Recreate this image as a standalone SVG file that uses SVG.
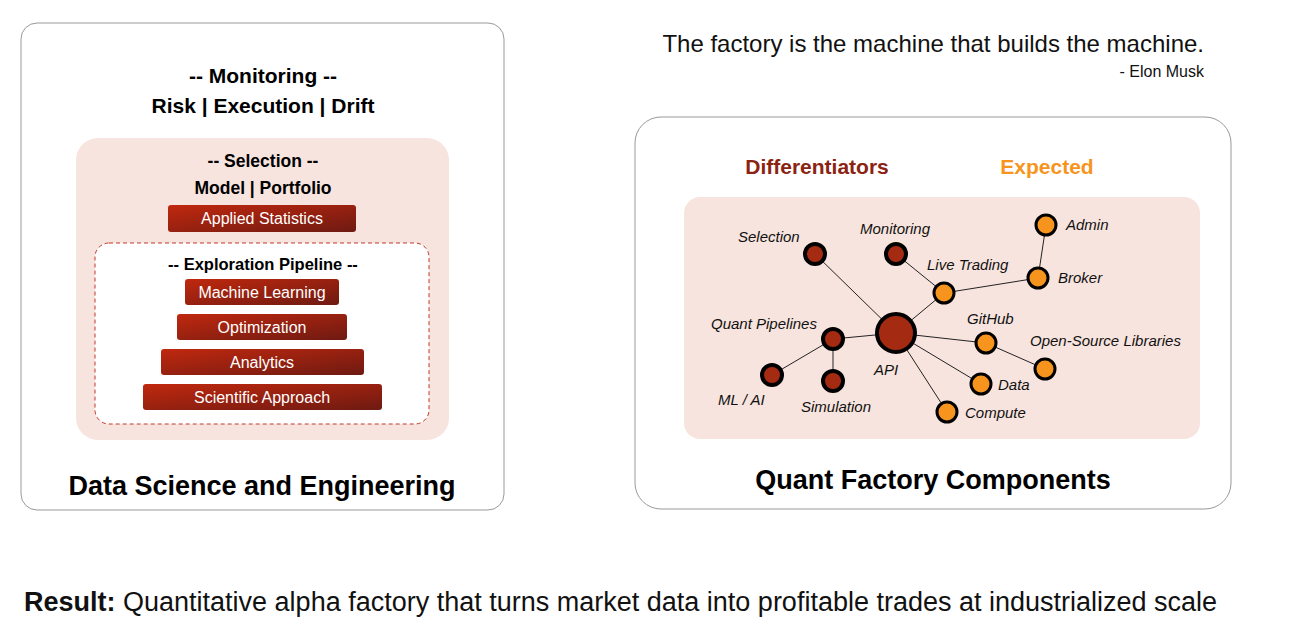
<svg xmlns="http://www.w3.org/2000/svg" width="1291" height="641" viewBox="0 0 1291 641">
<defs>
<linearGradient id="bar" x1="0" y1="0" x2="1" y2="1"><stop offset="0" stop-color="#c0280e"/><stop offset="1" stop-color="#6e1a12"/></linearGradient>
<style>
text{font-family:"Liberation Sans",Arial,sans-serif}
.b{font-weight:bold;fill:#000}
.bt{fill:#fff;font-size:16px;text-anchor:middle}
.n{font-size:15px;font-style:italic;fill:#111}
.d{fill:#a52a12;stroke:#000;stroke-width:4}
.e{fill:#f7941d;stroke:#000;stroke-width:3}
.c line{stroke:#222;stroke-width:1}
</style>
</defs>
<rect width="1291" height="641" fill="#fff"/>
<g id="left">
<rect x="21" y="23" width="483" height="487" rx="16" fill="#fff" stroke="#999"/>
<text x="263" y="83" class="b" font-size="21" text-anchor="middle">-- Monitoring --</text>
<text x="263" y="113" class="b" font-size="21" text-anchor="middle">Risk | Execution | Drift</text>
<rect x="76" y="138" width="373" height="302" rx="22" fill="#f8e4de"/>
<text x="263" y="167" class="b" font-size="17.5" text-anchor="middle">-- Selection --</text>
<text x="263" y="194" class="b" font-size="17.5" text-anchor="middle">Model | Portfolio</text>
<rect x="168" y="205" width="188" height="27" rx="3" fill="url(#bar)"/>
<text x="262" y="224" class="bt">Applied Statistics</text>
<rect x="95" y="243" width="334" height="181" rx="14" fill="#fff" stroke="#c0392b" stroke-dasharray="4,3"/>
<text x="263" y="270" class="b" font-size="16.5" text-anchor="middle">-- Exploration Pipeline --</text>
<rect x="185" y="279" width="154" height="26" rx="3" fill="url(#bar)"/>
<text x="262" y="298" class="bt">Machine Learning</text>
<rect x="177" y="314" width="170" height="26" rx="3" fill="url(#bar)"/>
<text x="262" y="333" class="bt">Optimization</text>
<rect x="161" y="349" width="203" height="26" rx="3" fill="url(#bar)"/>
<text x="262" y="368" class="bt">Analytics</text>
<rect x="143" y="384" width="239" height="26" rx="3" fill="url(#bar)"/>
<text x="262" y="403" class="bt">Scientific Approach</text>
<text x="262" y="495" class="b" font-size="27" text-anchor="middle">Data Science and Engineering</text>
</g>
<text x="1204" y="52" font-size="24" text-anchor="end" fill="#111">The factory is the machine that builds the machine.</text>
<text x="1204" y="77" font-size="16" text-anchor="end" fill="#111">- Elon Musk</text>
<g id="right">
<rect x="635" y="117" width="596" height="392" rx="26" fill="#fff" stroke="#999"/>
<text x="817" y="174" class="b" font-size="21" text-anchor="middle" style="fill:#8b2312">Differentiators</text>
<text x="1047" y="174" class="b" font-size="21" text-anchor="middle" style="fill:#f7941d">Expected</text>
<rect x="684" y="197" width="516" height="242" rx="16" fill="#f8e4de"/>
<text x="933" y="489" class="b" font-size="27" text-anchor="middle">Quant Factory Components</text>
</g>
<g class="c" id="connectors">
<line x1="815" y1="254" x2="896" y2="333"/>
<line x1="896" y1="254" x2="944" y2="293"/>
<line x1="944" y1="293" x2="1038" y2="278"/>
<line x1="1038" y1="278" x2="1046" y2="225"/>
<line x1="944" y1="293" x2="896" y2="333"/>
<line x1="896" y1="333" x2="833" y2="339"/>
<line x1="833" y1="339" x2="772" y2="375"/>
<line x1="833" y1="339" x2="833" y2="381"/>
<line x1="896" y1="333" x2="986" y2="343"/>
<line x1="986" y1="343" x2="1045" y2="369"/>
<line x1="896" y1="333" x2="981" y2="384"/>
<line x1="896" y1="333" x2="947" y2="412"/>
</g>
<g id="nodes">
<g id="n-selection"><circle cx="815" cy="254" r="10" class="d"/><text x="738" y="242" class="n">Selection</text></g>
<g id="n-monitoring"><circle cx="896" cy="254" r="10" class="d"/><text x="860" y="234" class="n">Monitoring</text></g>
<g id="n-live"><circle cx="944" cy="293" r="10" class="e"/><text x="927" y="270" class="n">Live Trading</text></g>
<g id="n-broker"><circle cx="1038" cy="278" r="10" class="e"/><text x="1058" y="283" class="n">Broker</text></g>
<g id="n-admin"><circle cx="1046" cy="225" r="10" class="e"/><text x="1066" y="230" class="n">Admin</text></g>
<g id="n-api"><circle cx="896" cy="333" r="19" class="d"/><text x="874" y="375" class="n">API</text></g>
<g id="n-qp"><circle cx="833" cy="339" r="10" class="d"/><text x="711" y="329" class="n">Quant Pipelines</text></g>
<g id="n-ml"><circle cx="772" cy="375" r="10" class="d"/><text x="718" y="405" class="n">ML / AI</text></g>
<g id="n-sim"><circle cx="833" cy="381" r="10" class="d"/><text x="801" y="412" class="n">Simulation</text></g>
<g id="n-github"><circle cx="986" cy="343" r="10" class="e"/><text x="967" y="324" class="n">GitHub</text></g>
<g id="n-os"><circle cx="1045" cy="369" r="10" class="e"/><text x="1030" y="346" class="n">Open-Source Libraries</text></g>
<g id="n-data"><circle cx="981" cy="384" r="10" class="e"/><text x="998" y="390" class="n">Data</text></g>
<g id="n-compute"><circle cx="947" cy="412" r="10" class="e"/><text x="965" y="418" class="n">Compute</text></g>
</g>
<text x="24" y="611" font-size="27" fill="#111"><tspan font-weight="bold">Result:</tspan> Quantitative alpha factory that turns market data into profitable trades at industrialized scale</text>
</svg>
